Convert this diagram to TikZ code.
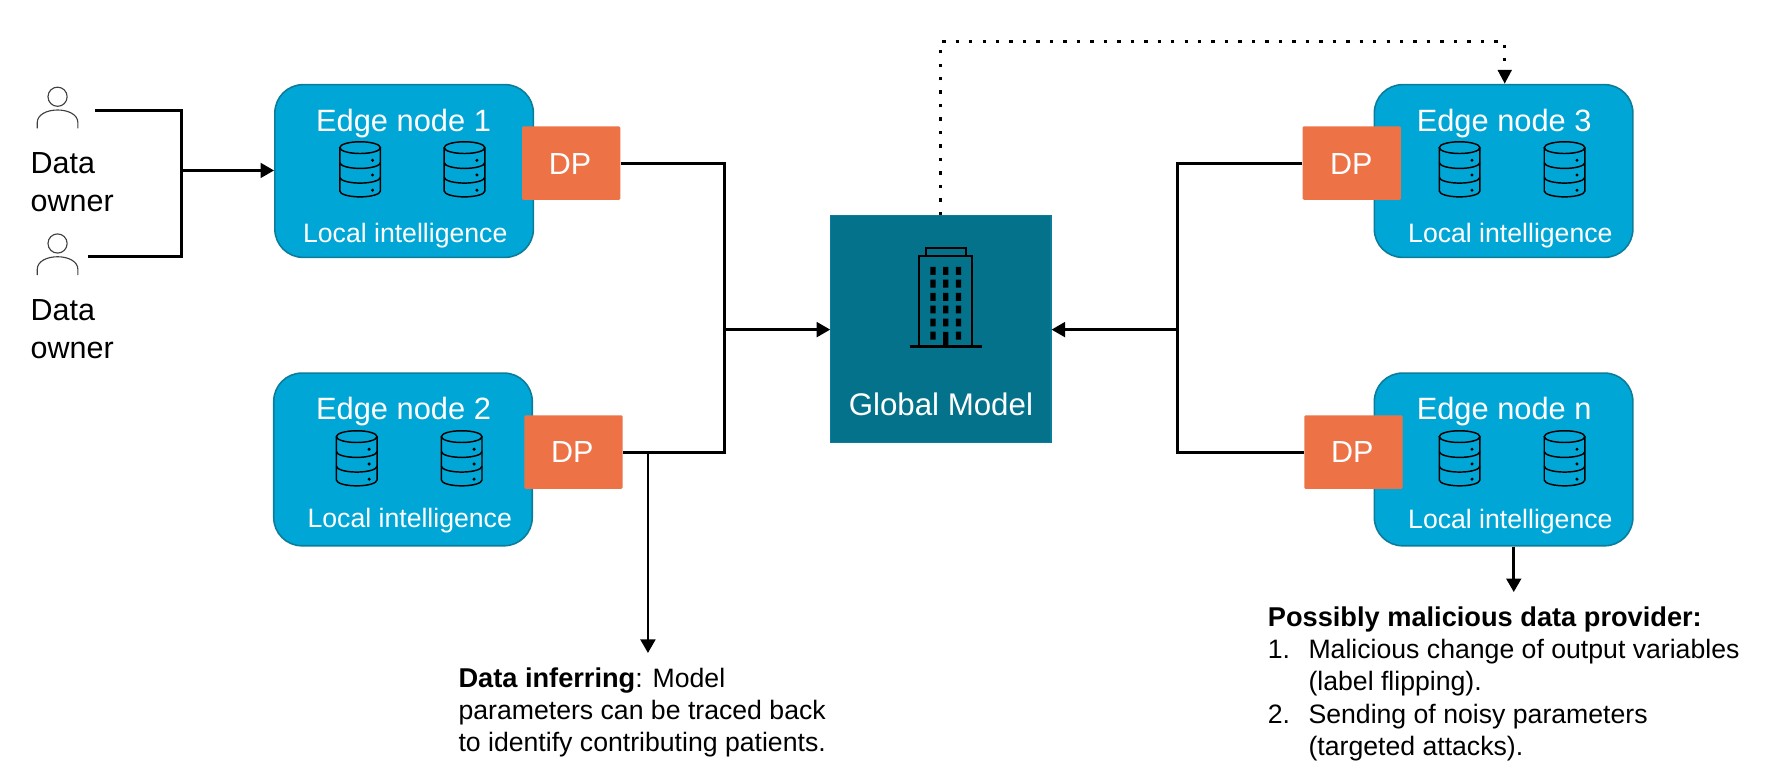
\documentclass[tikz,border=0pt]{standalone}
\usepackage{fontspec}
\setmainfont{Liberation Sans}
\usetikzlibrary{arrows.meta,calc}
\definecolor{edgeblue}{HTML}{00A7D6}
\definecolor{edgeline}{HTML}{0B7C9A}
\definecolor{dporange}{HTML}{ED7347}
\definecolor{globalteal}{HTML}{03728A}
\tikzset{x=1pt,y=-1pt,
 edgebox/.style={draw=edgeline,line width=1.4pt,fill=edgeblue,rounded corners=25pt,minimum width=229pt,minimum height=153pt,inner sep=0pt},
 dpbox/.style={fill=dporange,rounded corners=1pt,minimum width=87pt,minimum height=65pt,inner sep=0pt},
 globalbox/.style={fill=globalteal,draw=edgeline,line width=1pt,minimum width=195pt,minimum height=201pt,inner sep=0pt},
 wtxt/.style={text=white,inner sep=0pt,anchor=base},
 edgetitle/.style={wtxt,font=\fontsize{27.3}{32}\selectfont},
 localtxt/.style={wtxt,font=\fontsize{23.6}{28}\selectfont},
 dptxt/.style={wtxt,font=\fontsize{27}{30}\selectfont},
 ownertxt/.style={inner sep=0pt,anchor=base west,font=\fontsize{27}{34}\selectfont},
 notetxt/.style={inner sep=0pt,anchor=base west,font=\fontsize{23.6}{28.5}\selectfont},
 boldtxt/.style={notetxt,font=\fontsize{24.1}{28.5}\selectfont\bfseries},
 conn/.style={draw=black,line width=2.5pt},
 arr/.style={conn,-{Triangle[length=12pt,width=13pt]}},
 dotline/.style={draw=black,line width=3pt,dash pattern=on 3pt off 8.93pt},
 db/.pic={
  \draw[black,line width=1.3pt] (-18,-19.2) -- (-18,19.2) arc[start angle=180,end angle=0,x radius=18,y radius=5.2] -- (18,-19.2);
  \draw[black,line width=1.3pt] (0,-19.2) ellipse[x radius=18,y radius=5.2];
  \draw[black,line width=1.3pt] (-18,-6) arc[start angle=180,end angle=0,x radius=18,y radius=5.2];
  \draw[black,line width=1.3pt] (-18,7) arc[start angle=180,end angle=0,x radius=18,y radius=5.2];
  \fill[black] (11,-8) circle (1.5) (11,5) circle (1.5) (11,18.5) circle (1.5);
 },
 person/.pic={
  \draw[black!75,line width=1pt] (0,0) circle (8.5);
  \draw[black!75,line width=1pt] (-18,28) -- (-18,23) .. controls (-18,8) and (18,8) .. (18,23) -- (18,28);
 }}
\begin{document}
\begin{tikzpicture}
\useasboundingbox (0,0) rectangle (1568,689.3);
% people
\pic at (51,85.7) {person};
\pic at (51,215.7) {person};
\node[ownertxt] (o1a) at (27,153.7) {Data};
\node[ownertxt] (o1b) at (27,187) {owner};
\node[ownertxt] (o2a) at (27,284.3) {Data};
\node[ownertxt] (o2b) at (27,317.6) {owner};
\coordinate (p1) at (84,98);
\coordinate (p2) at (78,227);
% edge boxes
\node[edgebox] (e1) at (358,151.5) {};
\node[edgebox] (e2) at (357,407) {};
\node[edgebox] (e3) at (1332,151.5) {};
\node[edgebox] (en) at (1332,407) {};
% icons
\pic at (319,150) {db}; \pic at (411.5,150) {db};
\pic at (316,406) {db}; \pic at (409,406) {db};
\pic at (1293,150) {db}; \pic at (1386,150) {db};
\pic at (1293,406) {db}; \pic at (1386,406) {db};
% titles
\node[edgetitle] (t1) at (357.5,116.8) {Edge node 1};
\node[edgetitle] (t2) at (357.5,371.8) {Edge node 2};
\node[edgetitle] (t3) at (1332.5,116.8) {Edge node 3};
\node[edgetitle] (tn) at (1332.5,371.8) {Edge node n};
\node[localtxt] (l1) at (359,215) {Local intelligence};
\node[localtxt] (l2) at (363,467) {Local intelligence};
\node[localtxt] (l3) at (1338,215) {Local intelligence};
\node[localtxt] (ln) at (1338,468) {Local intelligence};
% DP
\node[dpbox] (d1) at (506,144.5) {};
\node[dpbox] (d2) at (508,400.5) {};
\node[dpbox] (d3) at (1197.5,144.5) {};
\node[dpbox] (dn) at (1199,400.5) {};
\node[dptxt] (d1t) at (505,154.3) {DP};
\node[dptxt] (d2t) at (507,410) {DP};
\node[dptxt] (d3t) at (1197,154.3) {DP};
\node[dptxt] (dnt) at (1198,410) {DP};
% global
\node[globalbox] (g) at (833.5,291.5) {};
\node[wtxt,font=\fontsize{27.7}{32}\selectfont] (gt) at (833.5,368) {Global Model};
\begin{scope}[line width=1.7pt,black]
 \draw (820.5,227) -- (820.5,220) -- (855.5,220) -- (855.5,227);
 \draw (814.5,307) -- (814.5,227) -- (861,227) -- (861,307);
 \draw[line width=2.2pt] (806,307) -- (870,307);
 \foreach \yy in {240,251.2,263,274.2,285.7} \fill (824.2,\yy-3.5) rectangle +(4.7,7) (835.4,\yy-3.5) rectangle +(4.7,7) (846.7,\yy-3.5) rectangle +(4.7,7);
 \fill (824.2,293.8) rectangle +(4.7,7) (846.7,293.8) rectangle +(4.7,7) (835.4,294) rectangle (840.1,307);
\end{scope}
% connectors
\coordinate (jo) at (161,151);
\draw[conn] (p1) -| (jo) |- (p2);
\draw[arr] (jo) -- (e1.west |- jo);
\coordinate (jl) at (642,292);
\coordinate (jr) at (1043,292);
\draw[conn] (d1.east) -| (jl) |- (d2.east);
\draw[arr] (jl) -- (g.west |- jl);
\draw[conn] (d3.west) -| (jr) |- (dn.west);
\draw[arr] (jr) -- (g.east |- jr);
% dotted
\coordinate (dt1) at (833,37);
\coordinate (dt2) at (1333,37);
\coordinate (dt3) at (1333,74);
\draw[dotline] (g.north -| dt1) -- (dt1) -- (dt2) -- ($(dt3)+(0,-20)$);
\draw[conn,line width=1pt,-{Triangle[length=12pt,width=12.5pt]}] ($(dt3)+(0,-12)$) -- (dt3);
% attack arrows
\coordinate (ja) at (574,400.5);
\coordinate (ta) at (574,578.5);
\draw[arr] (ja) -- (ta);
\coordinate (tb) at (1341,524.5);
\draw[arr] (en.south -| tb) -- (tb);
% notes
\node[notetxt] (n1) at (406,609) {\textbf{\fontsize{24.1}{28.5}\selectfont Data inferring}: Model};
\node[notetxt] (n2) at (406,637.5) {parameters can be traced back};
\node[notetxt] (n3) at (406,666) {to identify contributing patients.};
\node[boldtxt] (m1) at (1123,555) {Possibly malicious data provider:};
\node[notetxt] (m2a) at (1123,583.5) {1.};
\node[notetxt] (m2) at (1159,583.5) {Malicious change of output variables};
\node[notetxt] (m3) at (1159,612) {(label flipping).};
\node[notetxt] (m4a) at (1123,640.5) {2.};
\node[notetxt] (m4) at (1159,640.5) {Sending of noisy parameters};
\node[notetxt] (m5) at (1159,669) {(targeted attacks).};
\end{tikzpicture}
\end{document}
